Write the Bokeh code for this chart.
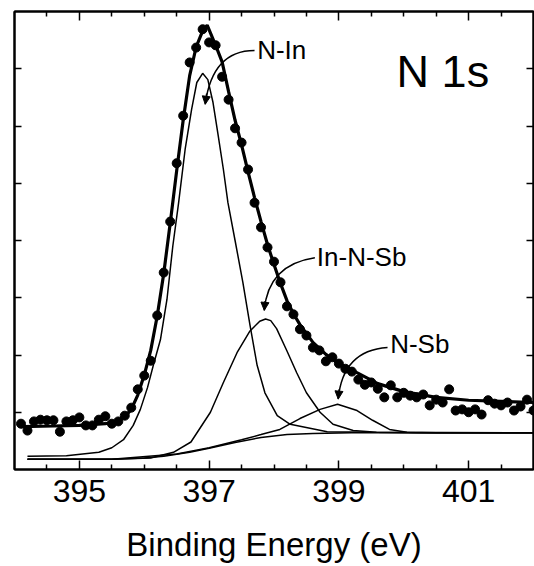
from bokeh.plotting import figure
from bokeh.models import FixedTicker, LinearAxis, Range1d, Arrow, NormalHead, CustomLabelingPolicy
from bokeh.core.properties import value
from bokeh.embed import file_html
from bokeh.resources import INLINE

FONT = "Liberation Sans"

# ---- measured data points (binding energy in eV, intensity in arb. units) ----
data_be = [394.1, 394.2, 394.3, 394.4, 394.5, 394.6, 394.7, 394.8, 394.9, 395.0,
           395.1, 395.2, 395.3, 395.4, 395.5, 395.6, 395.7, 395.8, 395.9, 396.0,
           396.1, 396.2, 396.3, 396.4, 396.5, 396.6, 396.7, 396.8, 396.9, 397.0,
           397.1, 397.2, 397.3, 397.4, 397.5, 397.6, 397.7, 397.8, 397.9, 398.0,
           398.1, 398.2, 398.3, 398.4, 398.5, 398.6, 398.7, 398.8, 398.9, 399.0,
           399.1, 399.2, 399.3, 399.4, 399.5, 399.6, 399.7, 399.8, 399.9, 400.0,
           400.1, 400.2, 400.3, 400.4, 400.5, 400.6, 400.7, 400.8, 400.9, 401.0,
           401.1, 401.2, 401.3, 401.4, 401.5, 401.6, 401.7, 401.8, 401.9, 402.0]
data_int = [0.80, 0.68, 0.84, 0.87, 0.86, 0.86, 0.66, 0.84, 0.86, 0.91,
            0.77, 0.77, 0.87, 0.93, 0.80, 0.84, 0.94, 1.08, 1.40, 1.64,
            1.90, 2.69, 3.44, 4.33, 5.35, 6.18, 7.11, 7.37, 7.69, 7.46,
            7.41, 6.86, 6.46, 5.96, 5.71, 5.24, 4.66, 4.23, 3.88, 3.63,
            3.27, 2.85, 2.71, 2.45, 2.34, 2.13, 2.08, 1.89, 1.96, 1.85,
            1.76, 1.71, 1.57, 1.48, 1.52, 1.41, 1.26, 1.47, 1.26, 1.34,
            1.29, 1.26, 1.31, 1.12, 1.22, 1.17, 1.40, 1.03, 1.05, 1.00,
            1.05, 0.96, 1.21, 1.15, 1.12, 1.17, 1.03, 1.10, 1.22, 1.03]

# ---- fitted envelope ----
env_be = [394.1, 394.6, 395.0, 395.4, 395.6, 395.7, 395.8, 395.9, 396.0, 396.1,
          396.2, 396.3, 396.4, 396.5, 396.6, 396.7, 396.8, 396.9, 396.97, 397.1,
          397.2, 397.3, 397.4, 397.5, 397.6, 397.7, 397.8, 397.9, 398.0, 398.1,
          398.2, 398.3, 398.4, 398.6, 398.8, 399.0, 399.3, 399.6, 400.0, 400.5,
          401.0, 401.5, 402.0]
env_int = [0.75, 0.76, 0.77, 0.80, 0.85, 0.92, 1.05, 1.30, 1.65, 2.08,
           2.68, 3.42, 4.30, 5.22, 6.10, 6.88, 7.38, 7.66, 7.76, 7.41,
           7.12, 6.60, 6.10, 5.67, 5.20, 4.75, 4.33, 3.93, 3.58, 3.25,
           2.95, 2.72, 2.53, 2.22, 2.01, 1.85, 1.68, 1.50, 1.36, 1.26,
           1.21, 1.19, 1.17]

# ---- N-In component ----
nin_be = [394.2, 394.8, 395.3, 395.5, 395.68, 395.83, 395.94, 396.05, 396.14, 396.25,
          396.35, 396.44, 396.53, 396.63, 396.73, 396.81, 396.90, 396.98, 397.06, 397.14,
          397.22, 397.29, 397.4, 397.52, 397.63, 397.74, 397.86, 398.05, 398.25, 398.82,
          399.5, 402.0]
nin_int = [0.23, 0.24, 0.30, 0.38, 0.52, 0.77, 1.05, 1.43, 1.82, 2.27,
           2.97, 3.90, 4.66, 5.59, 6.29, 6.76, 6.92, 6.81, 6.41, 5.83,
           5.24, 4.66, 4.00, 3.27, 2.52, 1.82, 1.34, 0.94, 0.79, 0.66,
           0.65, 0.64]

# ---- In-N-Sb component ----
inn_be = [394.2, 395.5, 396.1, 396.45, 396.72, 397.02, 397.22, 397.43, 397.63, 397.78,
          397.87, 397.95, 398.04, 398.2, 398.35, 398.5, 398.71, 398.91, 399.22, 399.58,
          400.2, 402.0]
inn_int = [0.18, 0.18, 0.20, 0.30, 0.48, 1.00, 1.52, 2.04, 2.42, 2.59,
           2.63, 2.60, 2.46, 2.07, 1.69, 1.34, 1.00, 0.79, 0.68, 0.65,
           0.64, 0.64]

# ---- N-Sb component ----
nsb_be = [394.2, 395.5, 396.5, 397.0, 397.5, 397.8, 398.09, 398.4, 398.71, 398.98,
          399.28, 399.52, 399.78, 400.05, 400.5, 402.0]
nsb_int = [0.18, 0.18, 0.27, 0.38, 0.52, 0.61, 0.70, 0.89, 1.05, 1.14,
           1.03, 0.86, 0.70, 0.65, 0.64, 0.64]

# ---- background ----
bg_be = [394.2, 395.5, 396.0, 396.3, 396.7, 397.0, 397.4, 397.8, 398.2, 398.6, 399.2, 402.0]
bg_int = [0.18, 0.18, 0.20, 0.23, 0.30, 0.37, 0.47, 0.56, 0.61, 0.63, 0.64, 0.64]

# ---- axes ticks ----
x_major = [395, 397, 399, 401]
x_minor = [394.5, 395.5, 396, 396.5, 397.5, 398, 398.5, 399.5, 400, 400.5, 401.5]
y_ticks = [1, 2, 3, 4, 5, 6, 7]

# ---- annotations: label, text pos (left / vertical centre), arrow start, control, tip ----
ann_text = ["N-In", "In-N-Sb", "N-Sb"]
ann_tx = [397.74, 398.66, 399.79]
ann_ty = [7.33, 3.72, 2.19]
arr_x0 = [397.70, 398.63, 399.75]
arr_y0 = [7.32, 3.70, 2.13]
arr_cx = [397.05, 397.91, 399.06]
arr_cy = [7.32, 3.58, 2.08]
arr_x1 = [396.94, 397.85, 398.99]
arr_y1 = [6.38, 2.78, 1.23]

title_text = "N 1s"
title_x, title_y = 399.89, 6.95

p = figure(frame_width=519, frame_height=458, x_range=Range1d(394, 402), y_range=Range1d(0, 8),
           output_backend="svg", toolbar_location=None,
           min_border_left=14, min_border_right=1, min_border_top=9, min_border_bottom=0)
p.xgrid.visible = False
p.ygrid.visible = False
p.outline_line_color = "black"
p.outline_line_width = 2
p.background_fill_color = "white"
p.border_fill_color = "white"


def style_axis(ax, ticker, major_len, minor_len):
    ax.ticker = ticker
    ax.axis_line_color = "black"
    ax.axis_line_width = 2
    ax.major_tick_in = major_len
    ax.major_tick_out = 0
    ax.minor_tick_in = minor_len
    ax.minor_tick_out = 0
    ax.major_tick_line_color = "black"
    ax.major_tick_line_width = 1.5
    ax.minor_tick_line_color = "black"
    ax.minor_tick_line_width = 1.5


xt = FixedTicker(ticks=x_major, minor_ticks=x_minor)
# y ticks carry no labels: draw them as minor ticks (which are never labelled)
yt = FixedTicker(ticks=[], minor_ticks=y_ticks)

bottom = p.xaxis[0]
style_axis(bottom, xt, 9, 5)
bottom.major_label_text_font = FONT
bottom.major_label_text_font_size = "32px"
bottom.major_label_text_color = "black"
bottom.major_label_standoff = 10
bottom.axis_label = "Binding Energy (eV)"
bottom.axis_label_text_font = FONT
bottom.axis_label_text_font_size = "33px"
bottom.axis_label_text_font_style = "normal"
bottom.axis_label_text_color = "black"
bottom.axis_label_standoff = 21

left = p.yaxis[0]
style_axis(left, yt, 0, 7)
left.major_label_standoff = 0

top = LinearAxis()
style_axis(top, xt, 9, 5)
top.major_label_standoff = 0
top.major_label_policy = CustomLabelingPolicy(code="")
p.add_layout(top, "above")

right = LinearAxis()
style_axis(right, yt, 0, 7)
right.major_label_standoff = 0
p.add_layout(right, "right")

# component curves
p.line(bg_be, bg_int, line_color="black", line_width=1.5)
p.line(nsb_be, nsb_int, line_color="black", line_width=1.5)
p.line(inn_be, inn_int, line_color="black", line_width=1.5)
p.line(nin_be, nin_int, line_color="black", line_width=1.5)
# envelope
p.line(env_be, env_int, line_color="black", line_width=3.2)
# data points
p.scatter(data_be, data_int, marker="circle", size=9, fill_color="black", line_color="black")

# labels and arrows
p.text(ann_tx, ann_ty, text=ann_text, text_font=value(FONT), text_font_size="26px",
       text_align="left", text_baseline="middle", text_color="black")
p.quadratic(x0=arr_x0, y0=arr_y0, x1=arr_x1, y1=arr_y1, cx=arr_cx, cy=arr_cy,
            line_color="black", line_width=1.5)
for i in range(len(ann_text)):
    sx = arr_x1[i] - 0.2 * (arr_x1[i] - arr_cx[i])
    sy = arr_y1[i] - 0.2 * (arr_y1[i] - arr_cy[i])
    p.add_layout(Arrow(end=NormalHead(size=8, fill_color="black", line_color="black"),
                       x_start=sx, y_start=sy, x_end=arr_x1[i], y_end=arr_y1[i],
                       line_color="black", line_width=1.5))

p.text([title_x], [title_y], text=[title_text], text_font=value(FONT), text_font_size="45px",
       text_align="left", text_baseline="middle", text_color="black")

open("out.html", "w").write(file_html(p, INLINE))
